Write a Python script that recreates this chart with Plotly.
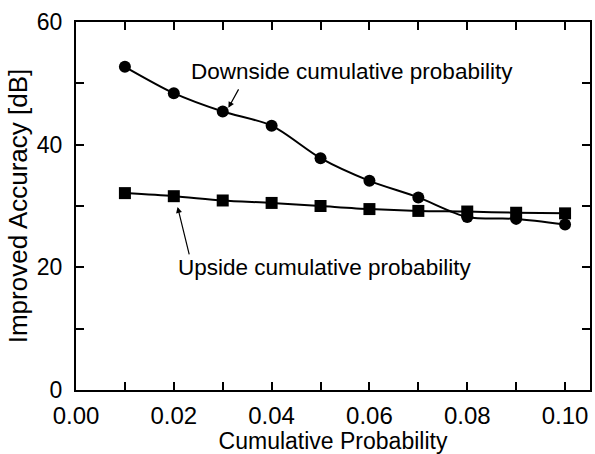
import plotly.graph_objects as go

x_vals = [0.01, 0.02, 0.03, 0.04, 0.05, 0.06, 0.07, 0.08, 0.09, 0.10]
downside = [52.7, 48.4, 45.4, 43.1, 37.8, 34.1, 31.4, 28.2, 27.9, 27.0]
upside = [32.1, 31.6, 30.9, 30.5, 30.0, 29.5, 29.2, 29.1, 28.9, 28.8]
x_ticks = [0.0, 0.02, 0.04, 0.06, 0.08, 0.10]
x_tick_labels = ["0.00", "0.02", "0.04", "0.06", "0.08", "0.10"]
y_ticks = [0, 20, 40, 60]

FONT = "Liberation Sans, Arial, sans-serif"

fig = go.Figure()
fig.add_trace(go.Scatter(x=x_vals, y=downside, mode="lines+markers",
                         line=dict(color="black", width=2, shape="spline", smoothing=0.8),
                         marker=dict(symbol="circle", size=12, color="black"),
                         name="Downside"))
fig.add_trace(go.Scatter(x=x_vals, y=upside, mode="lines+markers",
                         line=dict(color="black", width=2, shape="spline", smoothing=0.8),
                         marker=dict(symbol="square", size=12, color="black"),
                         name="Upside"))

fig.add_annotation(x=0.0564, y=51.9, text="Downside cumulative probability", showarrow=False,
                   font=dict(family=FONT, size=22.5, color="black"))
fig.add_annotation(x=0.0508, y=19.9, text="Upside cumulative probability", showarrow=False,
                   font=dict(family=FONT, size=22.5, color="black"))
fig.add_annotation(x=0.03116, y=46.0, ax=11, ay=-20, text="", showarrow=True,
                   arrowhead=2, arrowsize=1, arrowwidth=1.2, arrowcolor="black")
fig.add_annotation(x=0.02077, y=29.85, ax=12, ay=49, text="", showarrow=True,
                   arrowhead=2, arrowsize=1, arrowwidth=1.2, arrowcolor="black")

fig.update_layout(
    width=595, height=454,
    margin=dict(l=76, r=3, t=22, b=64),
    plot_bgcolor="white", paper_bgcolor="white",
    showlegend=False,
    font=dict(family=FONT, color="black"),
)
fig.update_xaxes(range=[0, 0.1051], tickvals=x_ticks, ticktext=x_tick_labels,
                 ticks="inside", ticklen=8, tickwidth=1.5, tickcolor="black",
                 minor=dict(dtick=0.01, ticks="inside", ticklen=8, tickwidth=1.5, tickcolor="black"),
                 showline=True, linewidth=2, linecolor="black", mirror="allticks",
                 showgrid=False, zeroline=False, ticklabelstandoff=3,
                 tickfont=dict(family=FONT, size=24),
                 title=dict(text="Cumulative Probability", font=dict(family=FONT, size=23), standoff=0))
fig.update_yaxes(range=[0, 60], tickvals=y_ticks,
                 ticks="inside", ticklen=8, tickwidth=1.5, tickcolor="black",
                 minor=dict(dtick=10, ticks="inside", ticklen=8, tickwidth=1.5, tickcolor="black"),
                 showline=True, linewidth=2, linecolor="black", mirror="allticks",
                 showgrid=False, zeroline=False, ticklabelstandoff=7,
                 tickfont=dict(family=FONT, size=23),
                 title=dict(text="Improved Accuracy [dB]", font=dict(family=FONT, size=26), standoff=2))

fig.write_html("out.html")
